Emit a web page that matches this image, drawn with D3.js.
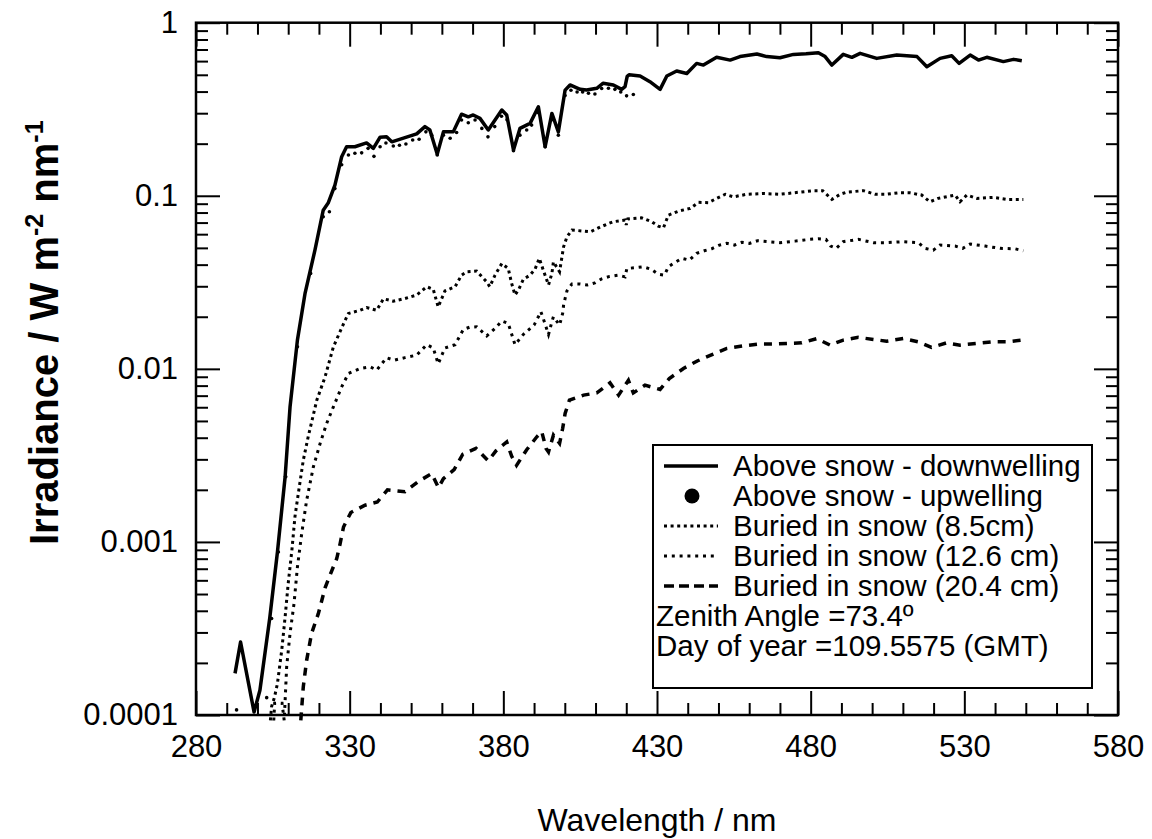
<!DOCTYPE html>
<html><head><meta charset="utf-8">
<script src="https://cdn.jsdelivr.net/npm/d3@7"></script>
<style>
body{margin:0;background:#fff}
text{font-family:"Liberation Sans",Arial,sans-serif;fill:#000}
</style>
</head><body>
<svg id="c" width="1152" height="839"></svg>
<script>
// ---------------- DATA ----------------
const xTickValues = [280,330,380,430,480,530,580];
const xTickLabels = ["280","330","380","430","480","530","580"];
const yTickValues = [1e-4,1e-3,1e-2,1e-1,1];
const yTickLabels = ["0.0001","0.001","0.01","0.1","1"];

const downWl  = [292.7,294.5,298.9,300.8,304.0,306.5,309.0,310.6,313.0,315.5,318.7,321.4,323.0,325.2,327.4,329.0,331.7,335.5,337.7,339.9,342.0,343.7,348.5,351.8,354.5,356.1,358.5,360.5,363.7,366.4,368.6,370.2,372.4,375.1,379.5,381.1,383.3,385.4,388.7,391.4,393.6,395.8,397.9,400.1,401.7,405.0,407.1,410.4,412.5,415.8,418.5,419.6,420.3,420.9,424.5,427.7,431.0,433.2,436.4,439.7,442.9,445.1,449.4,453.8,457.0,462.5,465.7,470.0,474.4,478.5,482.5,484.7,486.9,490.6,493.4,496.1,501.5,508.0,514.6,517.8,522.1,525.9,528.3,531.9,534.6,537.3,542.7,546.0,548.7];
const downVal = [0.000174,0.000264,0.000104,0.000139,0.000363,0.000875,0.00238,0.00603,0.01466,0.0274,0.0485,0.0826,0.0908,0.1153,0.168,0.192,0.192,0.202,0.188,0.218,0.219,0.205,0.218,0.228,0.251,0.240,0.174,0.234,0.234,0.296,0.286,0.293,0.280,0.240,0.313,0.293,0.184,0.245,0.262,0.327,0.192,0.299,0.234,0.408,0.437,0.412,0.408,0.418,0.447,0.437,0.412,0.427,0.490,0.500,0.492,0.456,0.412,0.492,0.526,0.509,0.582,0.569,0.631,0.608,0.637,0.659,0.637,0.627,0.656,0.661,0.671,0.637,0.569,0.656,0.631,0.665,0.622,0.650,0.637,0.557,0.622,0.644,0.582,0.650,0.608,0.631,0.596,0.614,0.603];

const upWl  = [293.2,303.0,304.6,306.8,309.2,313.0,317.3,321.4,323.4,325.2,327.4,329.6,331.7,333.9,336.0,337.9,339.9,341.8,344.2,346.2,348.3,350.5,352.6,354.8,356.7,358.5,360.5,362.7,364.8,366.4,368.6,370.8,373.0,375.0,377.2,379.4,381.2,383.3,385.4,387.6,389.2,391.4,393.6,395.8,397.9,400.1,402.0,404.0,405.8,407.7,409.8,412.0,414.2,416.3,418.2,420.1,422.3];
const upVal = [0.000107,0.000126,0.000361,0.000875,0.00238,0.0134,0.0356,0.0757,0.0809,0.110,0.151,0.172,0.176,0.177,0.188,0.169,0.192,0.202,0.194,0.196,0.199,0.210,0.212,0.234,0.224,0.172,0.224,0.215,0.232,0.274,0.264,0.274,0.245,0.219,0.251,0.288,0.275,0.182,0.224,0.240,0.256,0.302,0.192,0.275,0.224,0.380,0.407,0.398,0.398,0.391,0.387,0.417,0.418,0.412,0.398,0.378,0.385];

const b85Wl  = [304.2,304.6,305.5,306.5,307.9,309.0,310.0,311.2,312.2,313.3,314.9,316.5,319.3,322.0,324.7,328.0,329.6,333.4,335.5,338.8,341.0,344.2,348.0,351.8,355.1,357.2,358.8,361.0,364.3,366.4,368.1,371.3,374.6,375.6,377.3,379.5,381.6,382.7,383.8,384.9,386.5,388.7,390.3,391.7,393.0,394.7,395.8,396.3,398.3,399.0,399.6,400.7,402.3,406.1,408.3,411.5,414.3,415.8,419.6,420.0,420.5,422.3,425.0,428.3,430.4,432.1,433.7,437.0,440.8,443.5,446.7,449.4,452.2,454.9,459.2,464.6,470.0,474.4,480.9,483.9,486.9,489.6,491.8,497.2,501.0,504.5,508.5,512.3,516.1,518.8,521.5,527.0,528.6,530.8,534.1,539.5,543.9,549.2];
const b85Val = [0.000093,0.000112,0.000126,0.000152,0.000237,0.000369,0.000575,0.000895,0.00140,0.00191,0.00296,0.00405,0.00659,0.00899,0.0134,0.0182,0.0209,0.0218,0.0226,0.0218,0.0254,0.0246,0.0255,0.0267,0.0298,0.0288,0.0228,0.0282,0.0298,0.0348,0.0364,0.0367,0.0318,0.0298,0.0348,0.0406,0.0380,0.0312,0.0267,0.0285,0.0329,0.0348,0.0376,0.0435,0.0372,0.0305,0.0356,0.0415,0.0364,0.0435,0.0507,0.0579,0.0634,0.0625,0.0619,0.0659,0.0692,0.0708,0.0724,0.0678,0.0735,0.0740,0.0746,0.0708,0.0668,0.0653,0.0773,0.0815,0.0845,0.0916,0.0912,0.0966,0.102,0.0986,0.102,0.103,0.102,0.104,0.107,0.107,0.0953,0.102,0.105,0.107,0.102,0.102,0.104,0.104,0.101,0.0923,0.0966,0.101,0.0923,0.101,0.0966,0.0979,0.0953,0.0953];

const b126Wl  = [305.3,305.6,308.0,308.7,309.5,310.6,311.9,313.0,314.4,316.0,318.2,320.4,322.5,324.7,327.4,329.6,333.4,336.6,338.8,342.0,344.5,348.0,351.8,355.1,357.2,358.8,361.0,364.3,367.0,369.0,371.3,374.6,377.3,379.5,381.6,383.8,386.5,390.0,391.4,392.2,393.0,394.7,395.8,396.3,398.3,399.3,399.6,400.1,400.7,402.3,405.0,407.3,409.8,412.0,414.6,417.5,419.6,420.2,422.9,425.4,428.0,430.4,432.4,433.7,435.6,438.1,440.5,442.9,445.4,447.8,450.3,452.7,455.2,457.6,460.1,462.7,470.0,474.9,479.7,482.5,485.0,486.5,488.3,490.6,495.5,500.4,504.7,510.1,515.0,517.2,519.9,522.1,527.0,529.5,531.9,536.8,541.6,546.5,549.2];
const b126Val = [0.000093,0.000117,0.000117,0.000093,0.000190,0.000296,0.000441,0.000716,0.00112,0.00174,0.00272,0.00371,0.00483,0.00603,0.00787,0.00940,0.01005,0.01028,0.00984,0.01159,0.01122,0.01161,0.0120,0.0138,0.0132,0.0107,0.0132,0.0138,0.0169,0.0174,0.0175,0.0155,0.0171,0.0189,0.0183,0.0138,0.0158,0.0179,0.0200,0.0214,0.0195,0.0158,0.0187,0.0200,0.0179,0.0209,0.0233,0.0255,0.0282,0.0309,0.0309,0.0305,0.0314,0.0331,0.0342,0.0348,0.0340,0.0380,0.0384,0.0389,0.0377,0.0352,0.0348,0.0389,0.0410,0.0435,0.0425,0.0465,0.0481,0.0494,0.0519,0.0531,0.0519,0.0538,0.0531,0.0550,0.0536,0.0547,0.0560,0.0565,0.0560,0.0512,0.0497,0.0543,0.0560,0.0536,0.0536,0.0543,0.0536,0.0497,0.0485,0.0519,0.0512,0.0497,0.0526,0.0512,0.0497,0.0494,0.0481];

const b204Wl  = [314.1,314.9,316.0,317.6,319.8,322.0,324.1,325.8,326.9,328.0,330.4,335.0,339.0,342.3,348.0,352.4,356.7,358.9,360.5,364.0,366.8,371.1,375.1,377.6,381.1,382.7,384.3,387.6,390.9,392.5,393.9,394.7,396.3,398.3,399.3,400.1,401.5,406.1,410.4,414.7,417.5,420.7,422.3,426.1,431.0,434.0,438.6,443.1,448.3,452.7,458.1,463.0,467.9,472.2,477.1,482.0,486.3,490.6,495.5,500.4,504.7,510.1,515.0,519.3,524.2,528.6,534.1,539.0,543.9,548.7];
const b204Val = [0.000093,0.000145,0.000207,0.000296,0.000385,0.000543,0.000676,0.000802,0.000979,0.00122,0.00148,0.00163,0.00170,0.00200,0.00195,0.00224,0.00248,0.00206,0.00232,0.00262,0.00321,0.00347,0.00294,0.00336,0.00378,0.00313,0.00277,0.00341,0.00405,0.00433,0.00347,0.00331,0.00414,0.00371,0.00452,0.00552,0.00659,0.00705,0.00726,0.00830,0.00705,0.00859,0.00726,0.00805,0.00760,0.00879,0.01005,0.0111,0.01216,0.01312,0.01358,0.0139,0.0139,0.01403,0.01413,0.01496,0.01371,0.01466,0.0152,0.01479,0.01445,0.01496,0.01432,0.0133,0.01413,0.01371,0.01403,0.01432,0.01432,0.01466];

const legendLabels = ["Above snow - downwelling","Above snow - upwelling","Buried in snow (8.5cm)","Buried in snow (12.6 cm)","Buried in snow (20.4 cm)"];
const infoLines = ["Zenith Angle =73.4º","Day of year =109.5575 (GMT)"];

// ---------------- CHART ----------------
const svg = d3.select("#c");
const L=196, R=1118, T=22.7, B=715;
const x = d3.scaleLinear().domain([280,580]).range([L,R]);
const y = d3.scaleLog().domain([1e-4,1]).range([B,T]);

const xMinor = d3.range(290,580,10).filter(v => (v-280)%50!==0);
const yMinor = [];
[-4,-3,-2,-1].forEach(k => { for(let m=2;m<=9;m++) yMinor.push(m*Math.pow(10,k)); });

function styleAxis(g){
  g.select(".domain").remove();
  g.selectAll(".tick line").attr("stroke","#000").attr("stroke-width",2);
  g.selectAll(".tick text").attr("font-size",31).attr("font-family","Liberation Sans, Arial, sans-serif").attr("fill","#000");
}

// bottom
svg.append("g").attr("transform",`translate(0,${B})`)
  .call(d3.axisBottom(x).tickValues(xTickValues).tickSize(-24).tickPadding(20).tickFormat((d,i)=>xTickLabels[i]))
  .call(styleAxis);
svg.append("g").attr("transform",`translate(0,${B})`)
  .call(d3.axisBottom(x).tickValues(xMinor).tickSize(-12).tickFormat(""))
  .call(styleAxis);
// top
svg.append("g").attr("transform",`translate(0,${T})`)
  .call(d3.axisTop(x).tickValues(xTickValues).tickSize(-24).tickFormat(""))
  .call(styleAxis);
svg.append("g").attr("transform",`translate(0,${T})`)
  .call(d3.axisTop(x).tickValues(xMinor).tickSize(-12).tickFormat(""))
  .call(styleAxis);
// left
svg.append("g").attr("transform",`translate(${L},0)`)
  .call(d3.axisLeft(y).tickValues(yTickValues).tickSize(-24).tickPadding(18).tickFormat((d,i)=>yTickLabels[i]))
  .call(styleAxis);
svg.append("g").attr("transform",`translate(${L},0)`)
  .call(d3.axisLeft(y).tickValues(yMinor).tickSize(-12).tickFormat(""))
  .call(styleAxis);
// right
svg.append("g").attr("transform",`translate(${R},0)`)
  .call(d3.axisRight(y).tickValues(yTickValues).tickSize(-24).tickFormat(""))
  .call(styleAxis);
svg.append("g").attr("transform",`translate(${R},0)`)
  .call(d3.axisRight(y).tickValues(yMinor).tickSize(-12).tickFormat(""))
  .call(styleAxis);

svg.append("rect").attr("x",L).attr("y",T).attr("width",R-L).attr("height",B-T)
  .attr("fill","none").attr("stroke","#000").attr("stroke-width",2.5);

const zip = (a,b) => a.map((v,i)=>[v,b[i]]);
const line = d3.line().x(d=>x(d[0])).y(d=>y(d[1]));

svg.append("path").datum(zip(b204Wl,b204Val)).attr("d",line)
  .attr("fill","none").attr("stroke","#000").attr("stroke-width",3.5).attr("stroke-dasharray","8,7");
svg.append("path").datum(zip(b126Wl,b126Val)).attr("d",line)
  .attr("fill","none").attr("stroke","#000").attr("stroke-width",3).attr("stroke-dasharray","3,4.8");
svg.append("path").datum(zip(b85Wl,b85Val)).attr("d",line)
  .attr("fill","none").attr("stroke","#000").attr("stroke-width",3).attr("stroke-dasharray","3,3.6");
svg.append("path").datum(zip(downWl,downVal)).attr("d",line)
  .attr("fill","none").attr("stroke","#000").attr("stroke-width",3.5).attr("stroke-linejoin","round");
svg.append("g").selectAll("circle").data(zip(upWl,upVal)).join("circle")
  .attr("cx",d=>x(d[0])).attr("cy",d=>y(d[1])).attr("r",1.8).attr("fill","#000");

// axis titles
svg.append("text").attr("x",(L+R)/2).attr("y",831).attr("text-anchor","middle")
  .attr("font-size",32).text("Wavelength / nm");
const yl = svg.append("text").attr("transform",`translate(58,545) rotate(-90)`)
  .attr("text-anchor","start").attr("font-size",40).attr("font-weight","bold");
yl.append("tspan").text("Irradiance / W m");
yl.append("tspan").attr("font-size",25).attr("dy",-15).text("-2");
yl.append("tspan").attr("dy",15).text(" nm");
yl.append("tspan").attr("font-size",25).attr("dy",-15).text("-1");

// legend
const lg = svg.append("g");
lg.append("rect").attr("x",653).attr("y",445).attr("width",439).attr("height",243)
  .attr("fill","#fff").attr("stroke","#000").attr("stroke-width",2);
const base0 = 476, step = 30;
const sampleStyles = [
  {type:"line", w:3.5, dash:null},
  {type:"dot"},
  {type:"line", w:3, dash:"3,3.6"},
  {type:"line", w:3, dash:"3,4.8"},
  {type:"line", w:3.5, dash:"10,5"}
];
legendLabels.forEach((t,i)=>{
  const by = base0 + i*step;
  const s = sampleStyles[i];
  if(s.type==="line"){
    lg.append("line").attr("x1",664).attr("x2",718).attr("y1",by-10).attr("y2",by-10)
      .attr("stroke","#000").attr("stroke-width",s.w).attr("stroke-dasharray",s.dash);
  } else {
    lg.append("circle").attr("cx",692).attr("cy",by-10).attr("r",7.5).attr("fill","#000");
  }
  lg.append("text").attr("x",733).attr("y",by).attr("font-size",29.5).text(t);
});
infoLines.forEach((t,i)=>{
  lg.append("text").attr("x",656).attr("y",base0+(5+i)*step).attr("font-size",29.5).text(t);
});
</script>
</body></html>
